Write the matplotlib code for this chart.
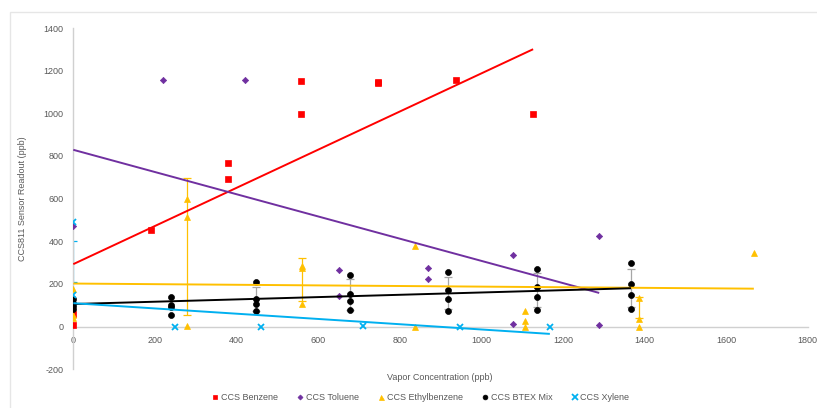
import numpy as np
import matplotlib
matplotlib.use("Agg")
import matplotlib.pyplot as plt
from matplotlib.patches import Rectangle

plt.rcParams['font.family'] = ['Liberation Sans', 'DejaVu Sans']
plt.rcParams['axes.unicode_minus'] = False

# Sensor readouts (ppb) against vapor concentration (ppb)
benzene_x = [0, 0, 190, 380, 380, 558, 558, 748, 748, 938, 1127]
benzene_y = [58, 9, 453, 766, 694, 1151, 996, 1148, 1140, 1156, 996]

toluene_x = [0, 219, 420, 650, 650, 869, 869, 1078, 1078, 1289, 1289]
toluene_y = [470, 1157, 1157, 266, 144, 274, 224, 335, 13, 427, 7]

ethyl_x = [0, 0, 0, 279, 279, 279, 560, 560, 560, 837, 837, 1108, 1108, 1108, 1387, 1387, 1387, 1668]
ethyl_y = [176, 55, 40, 600, 516, 5, 285, 274, 105, 378, 0, 74, 25, 0, 133, 35, 0, 346]

btex_x = [0, 0, 0, 0, 239, 239, 239, 239, 449, 449, 449, 449, 678, 678, 678, 678,
          918, 918, 918, 918, 1137, 1137, 1137, 1137, 1367, 1367, 1367, 1367]
btex_y = [128, 112, 95, 83, 141, 102, 91, 56, 210, 131, 106, 75, 244, 152, 120, 78,
          257, 171, 130, 75, 271, 185, 139, 80, 297, 199, 146, 82]

xylene_x = [0, 0, 249, 460, 709, 949, 1168]
xylene_y = [490, 148, 0, 0, 5, 0, 0]

# Error ranges (low, high) at selected concentrations
ethyl_err_x = [279, 560, 1387]
ethyl_err_lo = [55, 120, 40]
ethyl_err_hi = [696, 324, 140]

btex_err_x = [449, 678, 918, 1137, 1367]
btex_err_lo = [75, 78, 82, 90, 92]
btex_err_hi = [185, 222, 232, 250, 272]

xylene_err_x = [0]
xylene_err_lo = [210]
xylene_err_hi = [400]

# Linear trendlines: (intercept, slope)
trend_benzene = (293, 0.894)
trend_toluene = (829, -0.5206)
trend_ethyl = (202, -0.0144)
trend_btex = (106, 0.0541)
trend_xylene = (110, -0.1233)

labels = ["CCS Benzene", "CCS Toluene", "CCS Ethylbenzene", "CCS BTEX Mix", "CCS Xylene"]
x_ticks = [0, 200, 400, 600, 800, 1000, 1200, 1400, 1600, 1800]
y_ticks = [-200, 0, 200, 400, 600, 800, 1000, 1200, 1400]

RED = "#FF0000"
PURPLE = "#7030A0"
ORANGE = "#FFC000"
BLACK = "#000000"
CYAN = "#00B0F0"
TEXT = "#595959"
AXIS = "#D0D0D0"

fig = plt.figure(figsize=(8.17, 4.08), dpi=100)
fig.patches.append(Rectangle((10 / 817, -0.1), 1.2, 1.1 - 12 / 408, transform=fig.transFigure,
                             fill=False, edgecolor="#E6E6E6", linewidth=1.0))
ax = fig.add_axes([73.3 / 817, (408 - 369.3) / 408, 734.4 / 817, 341.3 / 408])
ax.set_xlim(0, 1800)
ax.set_ylim(-200, 1400)


def draw_err(xs, lo, hi, color, capsize=3):
    xs = np.asarray(xs, float)
    lo = np.asarray(lo, float)
    hi = np.asarray(hi, float)
    mid = (lo + hi) / 2
    ax.errorbar(xs, mid, yerr=[mid - lo, hi - mid], fmt="none", ecolor=color,
                elinewidth=0.9, capsize=capsize, capthick=0.9, zorder=2)


draw_err(ethyl_err_x, ethyl_err_lo, ethyl_err_hi, ORANGE)
draw_err(btex_err_x, btex_err_lo, btex_err_hi, "#A6A6A6")
draw_err(xylene_err_x, xylene_err_lo, xylene_err_hi, CYAN)

series = [
    (benzene_x, benzene_y, RED, "s", 4.3, trend_benzene),
    (toluene_x, toluene_y, PURPLE, "D", 3.2, trend_toluene),
    (ethyl_x, ethyl_y, ORANGE, "^", 4.5, trend_ethyl),
    (btex_x, btex_y, BLACK, "o", 4.3, trend_btex),
    (xylene_x, xylene_y, CYAN, "x", 5.0, trend_xylene),
]

handles = []
for (xs, ys, color, marker, ms, trend), label in zip(series, labels):
    h, = ax.plot(xs, ys, linestyle="none", marker=marker, markersize=ms, color=color,
                 markeredgewidth=1.3 if marker == "x" else 0.5, label=label, zorder=3)
    handles.append(h)

for (xs, ys, color, marker, ms, trend) in series:
    tx = np.array([0, max(xs)], float)
    ty = trend[0] + trend[1] * tx
    ax.plot(tx, ty, color=color, linewidth=1.4, zorder=4, solid_capstyle="butt")

for side in ["top", "right"]:
    ax.spines[side].set_visible(False)
ax.spines["left"].set_color(AXIS)
ax.spines["bottom"].set_color(AXIS)
ax.spines["bottom"].set_position(("data", 0))
ax.spines["left"].set_linewidth(1.0)
ax.spines["bottom"].set_linewidth(1.0)

ax.set_xticks(x_ticks)
ax.set_yticks(y_ticks)
ax.tick_params(axis="both", length=0, labelsize=6.5, labelcolor=TEXT)
ax.tick_params(axis="x", pad=7)
ax.tick_params(axis="y", pad=7)

fig.text(440 / 817, 1 - 378 / 408, "Vapor Concentration (ppb)", ha="center", va="center",
         fontsize=6.5, color=TEXT)
fig.text(23 / 817, 1 - 199 / 408, "CCS811 Sensor Readout (ppb)", ha="center", va="center",
         rotation=90, fontsize=6.5, color=TEXT)

fig.legend(handles=handles, loc="center", bbox_to_anchor=(421 / 817, 1 - 398 / 408),
           ncol=5, frameon=False, fontsize=6.5, labelcolor=TEXT, handlelength=0.6,
           handletextpad=0.3, columnspacing=2.2, markerscale=0.8)

fig.savefig("out.png", dpi=100)
